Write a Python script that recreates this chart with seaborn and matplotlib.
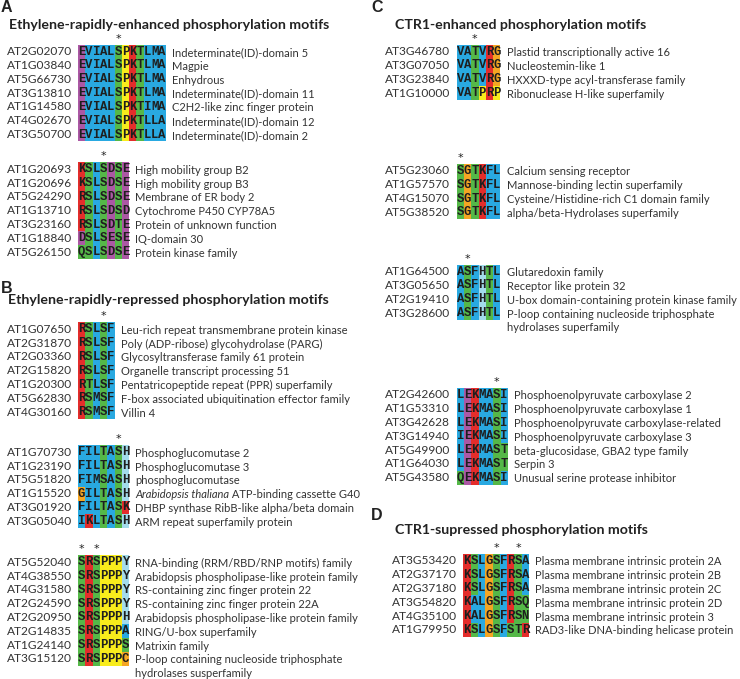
import matplotlib
matplotlib.use('Agg')
import matplotlib.pyplot as plt
from matplotlib.colors import ListedColormap
import numpy as np
import seaborn as sns

plt.rcParams['font.family'] = 'Lato'

# ---- data -------------------------------------------------------------
a1_genes = ['AT2G02070', 'AT1G03840', 'AT5G66730', 'AT3G13810', 'AT1G14580', 'AT4G02670', 'AT3G50700']
a1_motifs = ['EVIALSPKTLMA', 'EVIALSPKTLMA', 'EVIALSPKTLMA', 'EVIALSPKTLMA', 'EVIALSPKTIMA', 'EVIALSPKTLLA', 'EVIALSPKTLLA']
a1_desc = ['Indeterminate(ID)-domain 5', 'Magpie', 'Enhydrous', 'Indeterminate(ID)-domain 11',
           'C2H2-like zinc finger protein', 'Indeterminate(ID)-domain 12', 'Indeterminate(ID)-domain 2']
a1_sites = [5]

a2_genes = ['AT1G20693', 'AT1G20696', 'AT5G24290', 'AT1G13710', 'AT3G23160', 'AT1G18840', 'AT5G26150']
a2_motifs = ['KSLSDSE', 'KSLSDSE', 'RSLSDSE', 'RSLSDSD', 'RSLSDTE', 'DSLSESE', 'QSLSDSE']
a2_desc = ['High mobility group B2', 'High mobility group B3', 'Membrane of ER body 2', 'Cytochrome P450 CYP78A5',
           'Protein of unknown function', 'IQ-domain 30', 'Protein kinase family']
a2_sites = [3]

b1_genes = ['AT1G07650', 'AT2G31870', 'AT2G03360', 'AT2G15820', 'AT1G20300', 'AT5G62830', 'AT4G30160']
b1_motifs = ['RSLSF', 'RSLSF', 'RSLSF', 'RSLSF', 'RTLSF', 'RSMSF', 'RSMSF']
b1_desc = ['Leu-rich repeat transmembrane protein kinase', 'Poly (ADP-ribose) glycohydrolase (PARG)',
           'Glycosyltransferase family 61 protein', 'Organelle transcript processing 51',
           'Pentatricopeptide repeat (PPR) superfamily', 'F-box associated ubiquitination effector family', 'Villin 4']
b1_sites = [3]

b2_genes = ['AT1G70730', 'AT1G23190', 'AT5G51820', 'AT1G15520', 'AT3G01920', 'AT3G05040']
b2_motifs = ['FILTASH', 'FILTASH', 'FIMSASH', 'GILTASH', 'FILTASK', 'IKLTASH']
b2_desc = ['Phosphoglucomutase 2', 'Phosphoglucomutase 3', 'phosphoglucomutase',
           'Arabidopsis thaliana ATP-binding cassette G40', 'DHBP synthase RibB-like alpha/beta domain',
           'ARM repeat superfamily protein']
b2_sites = [5]

b3_genes = ['AT5G52040', 'AT4G38550', 'AT4G31580', 'AT2G24590', 'AT2G20950', 'AT2G14835', 'AT1G24140', 'AT3G15120']
b3_motifs = ['SRSPPPY', 'SRSPPPY', 'SRSPPPY', 'SRSPPPY', 'SRSPPPH', 'SRSPPPA', 'SRSPPPS', 'SRSPPPC']
b3_desc = ['RNA-binding (RRM/RBD/RNP motifs) family', 'Arabidopsis phospholipase-like protein family',
           'RS-containing zinc finger protein 22', 'RS-containing zinc finger protein 22A',
           'Arabidopsis phospholipase-like protein family', 'RING/U-box superfamily', 'Matrixin family',
           'P-loop containing nucleoside triphosphate\nhydrolases susperfamily']
b3_sites = [0, 2]

c1_genes = ['AT3G46780', 'AT3G07050', 'AT3G23840', 'AT1G10000']
c1_motifs = ['VATVRG', 'VATVRG', 'VATVRG', 'VATPRP']
c1_desc = ['Plastid transcriptionally active 16', 'Nucleostemin-like 1', 'HXXXD-type acyl-transferase family',
           'Ribonuclease H-like superfamily']
c1_sites = [2]

c2_genes = ['AT5G23060', 'AT1G57570', 'AT4G15070', 'AT5G38520']
c2_motifs = ['SGTKFL', 'SGTKFL', 'SGTKFL', 'SGTKFL']
c2_desc = ['Calcium sensing receptor', 'Mannose-binding lectin superfamily',
           'Cysteine/Histidine-rich C1 domain family', 'alpha/beta-Hydrolases superfamily']
c2_sites = [0]

c3_genes = ['AT1G64500', 'AT3G05650', 'AT2G19410', 'AT3G28600']
c3_motifs = ['ASFHTL', 'ASFHTL', 'ASFHTL', 'ASFHTL']
c3_desc = ['Glutaredoxin family', 'Receptor like protein 32', 'U-box domain-containing protein kinase family',
           'P-loop containing nucleoside triphosphate\nhydrolases superfamily']
c3_sites = [1]

c4_genes = ['AT2G42600', 'AT1G53310', 'AT3G42628', 'AT3G14940', 'AT5G49900', 'AT1G64030', 'AT5G43580']
c4_motifs = ['LEKMASI', 'LEKMASI', 'LEKMASI', 'IEKMASI', 'LEKMAST', 'LEKMAST', 'QEKMASI']
c4_desc = ['Phosphoenolpyruvate carboxylase 2', 'Phosphoenolpyruvate carboxylase 1',
           'Phosphoenolpyruvate carboxylase-related', 'Phosphoenolpyruvate carboxylase 3',
           'beta-glucosidase, GBA2 type family', 'Serpin 3', 'Unusual serine protease inhibitor']
c4_sites = [5]

d_genes = ['AT3G53420', 'AT2G37170', 'AT2G37180', 'AT3G54820', 'AT4G35100', 'AT1G79950']
d_motifs = ['KSLGSFRSA', 'KSLGSFRSA', 'KSLGSFRSA', 'KALGSFRSQ', 'KALGSFRSN', 'KSLGSFSTR']
d_desc = ['Plasma membrane intrinsic protein 2A', 'Plasma membrane intrinsic protein 2B',
          'Plasma membrane intrinsic protein 2C', 'Plasma membrane intrinsic protein 2D',
          'Plasma membrane intrinsic protein 3', 'RAD3-like DNA-binding helicase protein']
d_sites = [4, 7]

italic_prefix = 'Arabidopsis thaliana'
italic_genes = ['AT1G15520']

panel_labels = ['A', 'B', 'C', 'D']
panel_titles = ['Ethylene-rapidly-enhanced phosphorylation motifs',
                'Ethylene-rapidly-repressed phosphorylation motifs',
                'CTR1-enhanced phosphorylation motifs',
                'CTR1-supressed phosphorylation motifs']

# clustal-like residue colouring
residue_class = {'A': 0, 'V': 0, 'I': 0, 'L': 0, 'M': 0, 'F': 0, 'W': 0,
                 'S': 1, 'T': 1, 'N': 1, 'Q': 1,
                 'K': 2, 'R': 2,
                 'D': 3, 'E': 3,
                 'P': 4,
                 'G': 5, 'C': 5,
                 'H': 6, 'Y': 6}
palette = ['#29a9e1', '#55b848', '#e42d2b', '#ab58a4', '#f8ec1c', '#f5a623', '#a3dbeb']
cmap = ListedColormap(palette)

# ---- layout (pixels) --------------------------------------------------
W, H = 740, 679
CELL_W, CELL_H = 7.3, 13.8
TXT = '#333333'
DESC_FS = 8.05

groups = [
    (a1_genes, a1_motifs, a1_desc, a1_sites, 78, 44.8),
    (a2_genes, a2_motifs, a2_desc, a2_sites, 78, 162.4),
    (b1_genes, b1_motifs, b1_desc, b1_sites, 78, 322.4),
    (b2_genes, b2_motifs, b2_desc, b2_sites, 78, 445.4),
    (b3_genes, b3_motifs, b3_desc, b3_sites, 78, 555.4),
    (c1_genes, c1_motifs, c1_desc, c1_sites, 456.7, 44.8),
    (c2_genes, c2_motifs, c2_desc, c2_sites, 456.7, 164.1),
    (c3_genes, c3_motifs, c3_desc, c3_sites, 456.7, 264.8),
    (c4_genes, c4_motifs, c4_desc, c4_sites, 456.7, 388.0),
    (d_genes, d_motifs, d_desc, d_sites, 463.3, 554.0),
]
label_pos = [(1, 8), (1, 288), (371, 8), (371, 515)]
title_pos = [(9, 25), (8, 300.5), (395, 25), (395, 530)]

fig = plt.figure(figsize=(W / 100, H / 100), dpi=100)

for genes, motifs, desc, sites, px, py in groups:
    nrows, ncols = len(motifs), len(motifs[0])
    ax = fig.add_axes([px / W, 1 - (py + nrows * CELL_H) / H, ncols * CELL_W / W, nrows * CELL_H / H])
    codes = np.array([[residue_class[c] for c in m] for m in motifs])
    letters = np.array([list(m) for m in motifs])
    sns.heatmap(codes, ax=ax, cmap=cmap, vmin=-0.5, vmax=6.5, cbar=False,
                annot=letters, fmt='', xticklabels=False, yticklabels=genes,
                annot_kws=dict(color='#1e1e1e', family='Liberation Mono', weight='bold', fontsize=8.8))
    ax.tick_params(axis='y', length=0, pad=4.5, labelsize=8.6, labelcolor=TXT)
    for lbl in ax.get_yticklabels():
        lbl.set_rotation(0)
    # phosphosite markers
    for s in sites:
        ax.text(s + 0.5, -0.08, '*', ha='center', va='bottom', fontsize=8, family='DejaVu Sans',
                color='#222222', clip_on=False)
    for i, (g, d) in enumerate(zip(genes, desc)):
        for k, line in enumerate(d.split('\n')):
            if g in italic_genes and line.startswith(italic_prefix):
                t = ax.text(ncols + 0.85, i + 0.5 + k, italic_prefix, style='italic', va='center_baseline',
                            ha='left', fontsize=DESC_FS, color=TXT, clip_on=False)
                ax.annotate(line[len(italic_prefix):], xy=(1, 0), xycoords=t, va='bottom', ha='left',
                            fontsize=DESC_FS, color=TXT)
            else:
                ax.text(ncols + 0.85, i + 0.5 + k, line, va='center_baseline', ha='left',
                        fontsize=DESC_FS, color=TXT, clip_on=False)

for lab, (x, y) in zip(panel_labels, label_pos):
    fig.text(x / W, 1 - y / H, lab, fontsize=11.5, weight='bold', family='Liberation Sans',
             va='center', ha='left', color='#222222')
for ttl, (x, y) in zip(panel_titles, title_pos):
    fig.text(x / W, 1 - y / H, ttl, fontsize=10.2, weight='bold', va='center', ha='left', color='#222222')

fig.savefig('out.png', dpi=100, facecolor='white')
